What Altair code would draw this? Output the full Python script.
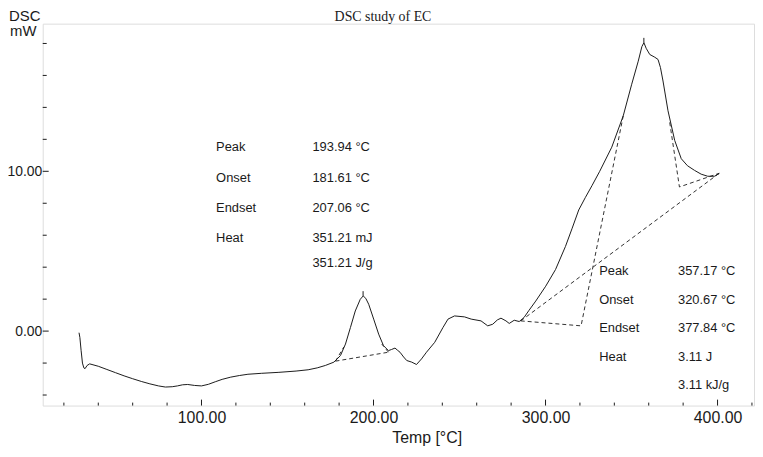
import altair as alt
import pandas as pd

# ---- curve data ----
temps = [28.8, 29.3, 30.0, 30.8, 31.6, 32.3, 33.5, 35.0, 40.0, 45.0, 50.0, 55.0, 60.0, 65.0,
         70.0, 75.0, 79.0, 83.0, 86.0, 89.0, 92.0, 96.0, 100.0, 104.0, 108.0, 112.0, 117.0,
         122.0, 127.0, 135.0, 145.0, 155.0, 162.0, 167.3, 172.0, 177.0, 180.8, 183.7, 186.6,
         189.4, 192.3, 194.0, 195.5, 197.2, 200.1, 203.0, 205.8, 208.7, 210.5, 212.5, 214.0,
         215.4, 217.5, 219.3, 222.2, 225.0, 227.9, 230.8, 235.6, 240.4, 243.3, 247.1, 252.9,
         256.8, 262.5, 266.4, 269.3, 272.0, 274.1, 277.0, 278.9, 281.8, 284.7, 287.5, 290.4,
         294.3, 300.1, 305.8, 311.6, 315.5, 319.3, 323.1, 327.0, 331.5, 338.5, 345.2, 350.1,
         353.9, 356.0, 357.2, 358.5, 360.6, 363.5, 365.4, 366.8, 368.3, 371.2, 375.1, 378.9,
         382.5, 386.6, 390.5, 394.3, 398.2, 401.0]
dsc = [-0.1, -0.4, -1.2, -2.0, -2.3, -2.35, -2.15, -2.05, -2.2, -2.4, -2.6, -2.8, -2.98, -3.15,
       -3.3, -3.43, -3.5, -3.48, -3.43, -3.36, -3.34, -3.4, -3.43, -3.33, -3.17, -3.02, -2.88,
       -2.78, -2.7, -2.64, -2.58, -2.5, -2.42, -2.3, -2.15, -1.94, -1.53, -0.81, 0.23,
       1.26, 1.99, 2.2, 2.05, 1.68, 0.75, -0.19, -0.91, -1.22, -1.15, -1.06, -1.2,
       -1.32, -1.62, -1.84, -1.94, -2.09, -1.74, -1.32, -0.7, 0.23, 0.75, 0.95, 0.89,
       0.75, 0.64, 0.33, 0.43, 0.7, 0.81, 0.64, 0.48, 0.68, 0.6, 0.85, 1.3,
       1.88, 2.81, 3.85, 5.3, 6.44, 7.58, 8.35, 9.1, 10.0, 11.51, 13.48, 15.45,
       16.89, 17.8, 18.05, 17.7, 17.31, 17.14, 17.0, 16.5, 15.65, 13.79, 11.93, 10.79,
       10.35, 10.06, 9.82, 9.69, 9.69, 9.86]

# ---- dashed construction lines ----
dash_seg = ["a", "a", "b", "b", "c", "c", "d", "d", "d", "e", "e", "f", "f", "f"]
dash_x = [177.9, 208.7, 177.9, 182.7, 208.7, 204.8, 285.6, 320.67, 345.2, 285.6, 401.0,
          372.2, 377.84, 401.0]
dash_y = [-1.88, -1.32, -1.88, -1.0, -1.32, -0.81, 0.64, 0.33, 13.48, 0.64, 9.88,
          13.06, 9.02, 9.88]

# ---- peak markers ----
peak_x = [193.94, 357.17]
peak_y = [2.2, 18.05]
peak_y2 = [2.5, 18.35]

# ---- annotations ----
left_labels = ["Peak", "Onset", "Endset", "Heat", ""]
left_values = ["193.94 °C", "181.61 °C", "207.06 °C", "351.21 mJ", "351.21 J/g"]
left_rows_y = [11.49, 9.57, 7.70, 5.84, 4.29]
right_labels = ["Peak", "Onset", "Endset", "Heat", ""]
right_values = ["357.17 °C", "320.67 °C", "377.84 °C", "3.11 J", "3.11 kJ/g"]
right_rows_y = [3.79, 1.93, 0.19, -1.61, -3.39]
left_label_x, left_value_x = 108.5, 164.5
right_label_x, right_value_x = 331.2, 377.0

# ---- axes ----
x_domain = [7.7, 421.2]
y_domain = [-4.66, 19.24]
x_major = [100, 200, 300, 400]
x_minor = [v for v in range(20, 421, 20) if v not in x_major]
y_major = [0, 10]
y_minor = [v for v in range(-4, 19, 2) if v not in y_major]

W, H = 717, 385
FONT = "Liberation Sans"
INK = "#1a1a1a"

xs = alt.Scale(domain=x_domain, nice=False, zero=False)
ys = alt.Scale(domain=y_domain, nice=False, zero=False)

x_axis = alt.Axis(values=x_major, format=".2f", ticks=False, domain=False, grid=False,
                  labelFontSize=16, labelFont=FONT, labelColor=INK, labelPadding=4,
                  title="Temp [°C]", titleFont=FONT, titleFontSize=16,
                  titleFontWeight="normal", titleColor=INK, titleX=387, titleY=32,
                  titleAlign="center", titleBaseline="middle")
y_axis = alt.Axis(values=y_major, format=".2f", ticks=False, domain=False, grid=False,
                  labelFontSize=14, labelFont=FONT, labelColor=INK, labelPadding=1,
                  title=None)

def X(field):
    return alt.X(field, scale=xs, axis=x_axis, title="Temp [°C]")

def Y(field):
    return alt.Y(field, scale=ys, axis=y_axis, title=None)

curve_df = pd.DataFrame({"t": temps, "v": dsc, "o": range(len(temps))})
curve = alt.Chart(curve_df).mark_line(color=INK, strokeWidth=1).encode(
    x=X("t:Q"), y=Y("v:Q"), order="o:Q")

dash_df = pd.DataFrame({"t": dash_x, "v": dash_y, "seg": dash_seg, "o": range(len(dash_x))})
dashes = alt.Chart(dash_df).mark_line(color=INK, strokeWidth=0.9, strokeDash=[4, 3]).encode(
    x=X("t:Q"), y=Y("v:Q"), detail="seg:N", order="o:Q")

peak_df = pd.DataFrame({"t": peak_x, "v": peak_y, "v2": peak_y2})
peaks = alt.Chart(peak_df).mark_rule(color=INK, strokeWidth=1).encode(
    x=X("t:Q"), y=Y("v:Q"), y2="v2:Q")

def text_layer(xv, yv, texts):
    df = pd.DataFrame({"t": [xv] * len(texts), "v": yv, "s": texts})
    return alt.Chart(df).mark_text(align="left", baseline="middle", font=FONT, fontSize=13,
                                   color=INK).encode(x=X("t:Q"), y=Y("v:Q"), text="s:N")

ann = [text_layer(left_label_x, left_rows_y, left_labels),
       text_layer(left_value_x, left_rows_y, left_values),
       text_layer(right_label_x, right_rows_y, right_labels),
       text_layer(right_value_x, right_rows_y, right_values)]

def xticks(vals, length):
    df = pd.DataFrame({"t": vals})
    return alt.Chart(df).mark_rule(color=INK, strokeWidth=1).encode(
        x=X("t:Q"), y=alt.value(H), y2=alt.value(H - length))

def yticks(vals, length):
    df = pd.DataFrame({"v": vals})
    return alt.Chart(df).mark_rule(color=INK, strokeWidth=1).encode(
        y=Y("v:Q"), x=alt.value(0), x2=alt.value(length))

ticks = [xticks(x_major, 6), xticks(x_minor, 3), yticks(y_major, 6), yticks(y_minor, 4)]

head_df = pd.DataFrame({"s": ["DSC study of EC"]})
title = alt.Chart(head_df).mark_text(font="Liberation Serif", fontSize=14, color=INK,
                                     align="center", baseline="top").encode(
    x=alt.value(343), y=alt.value(-13.5), text="s:N")

dsc_df = pd.DataFrame({"s": ["DSC"]})
dsc_lbl = alt.Chart(dsc_df).mark_text(font=FONT, fontSize=15, color=INK,
                                      align="left", baseline="alphabetic").encode(
    x=alt.value(-34), y=alt.value(-2.5), text="s:N")
mw_df = pd.DataFrame({"s": ["mW"]})
mw_lbl = alt.Chart(mw_df).mark_text(font=FONT, fontSize=15, color=INK,
                                    align="left", baseline="alphabetic").encode(
    x=alt.value(-33), y=alt.value(12.5), text="s:N")

chart = alt.layer(curve, dashes, peaks, *ann, *ticks, title, dsc_lbl, mw_lbl).properties(
    width=W, height=H,
    autosize=alt.AutoSizeParams(type="none"),
    padding={"left": 35, "top": 14, "right": 1, "bottom": 42},
).configure_view(stroke="#333333", strokeWidth=1).configure(background="white")

chart.save("out.html", embed_options={"renderer": "svg", "actions": False})
